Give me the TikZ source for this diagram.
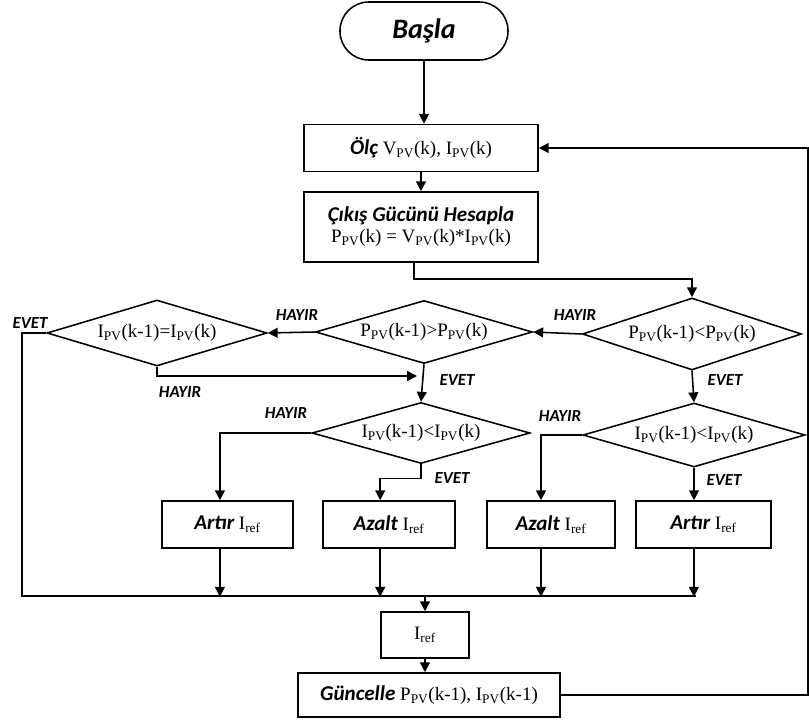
\documentclass[tikz,border=0pt]{standalone}
\usepackage{fontspec}
\setmainfont{Liberation Serif}
\newfontfamily\lblfont{Carlito}
\usetikzlibrary{shapes.geometric,arrows.meta}

\newcommand{\kw}[1]{{\lblfont\bfseries\itshape\fontsize{15}{18}\selectfont #1}}
\newcommand{\Ipv}{I\textsubscript{PV}}
\newcommand{\Vpv}{V\textsubscript{PV}}
\newcommand{\Ppv}{P\textsubscript{PV}}
\newcommand{\Iref}{I\textsubscript{ref}}

\tikzset{
  >={Triangle[length=7pt,width=7pt]},
  process/.style={draw, rectangle, line width=1.1pt, inner sep=2pt, align=center,
    font=\fontsize{13.5}{17}\selectfont},
  decision/.style={draw, diamond, aspect=3.4, line width=1.1pt, inner sep=0pt,
    font=\fontsize{13.5}{16}\selectfont},
  answer/.style={font=\lblfont\bfseries\itshape\fontsize{12}{14}\selectfont},
}

\begin{document}
\begin{tikzpicture}[x=0.025cm, y=-0.025cm, line width=1.1pt]
        \useasboundingbox (0,0) rectangle (809,722);

        % Start, measure and power
        \node[draw, rectangle, rounded corners=0.72cm, line width=1.1pt, minimum width=4.2cm, minimum height=1.45cm,
              font=\lblfont\bfseries\itshape\fontsize{20}{22}\selectfont] (start) at (424,31) {Başla};
        \node[process, minimum width=5.85cm, minimum height=1.175cm] (measure) at (421,148) {\kw{Ölç} \Vpv(k), \Ipv(k)};
        \node[process, minimum width=5.85cm, minimum height=1.75cm] (calc) at (421,227)
              {\kw{Çıkış Gücünü Hesapla}\\[-2pt] \Ppv(k) = \Vpv(k)*\Ipv(k)};

        % Decisions
        \node[decision, minimum width=5.475cm, minimum height=1.8cm] (d1) at (692,334) {\Ppv(k-1)<\Ppv(k)};
        \node[decision, minimum width=5.425cm, minimum height=1.575cm] (d2) at (424,332) {\Ppv(k-1)>\Ppv(k)};
        \node[decision, minimum width=5.5cm, minimum height=1.65cm] (d3) at (157,333) {\Ipv(k-1)=\Ipv(k)};
        \node[decision, minimum width=5.45cm, minimum height=1.525cm] (d4) at (421,433) {\Ipv(k-1)<\Ipv(k)};
        \node[decision, minimum width=5.55cm, minimum height=1.6cm] (d5) at (694,435) {\Ipv(k-1)<\Ipv(k)};

        % Actions
        \node[process, minimum width=3.275cm, minimum height=1.175cm] (b1) at (227.5,524.5) {\kw{Artır} \Iref};
        \node[process, minimum width=3.3cm, minimum height=1.175cm] (b2) at (389,524.5) {\kw{Azalt} \Iref};
        \node[process, minimum width=3.2cm, minimum height=1.175cm] (b3) at (551,524.5) {\kw{Azalt} \Iref};
        \node[process, minimum width=3.375cm, minimum height=1.175cm] (b4) at (703.5,524.5) {\kw{Artır} \Iref};

        \node[process, minimum width=2.2cm, minimum height=1.15cm] (iref) at (425,635) {\Iref};
        \node[process, minimum width=6.55cm, minimum height=1.1cm] (update) at (429,695)
              {\kw{Güncelle} \Ppv(k-1), \Ipv(k-1)};

        % Yes / no labels
        \node[answer] (no1) at (575,315) {HAYIR};
        \node[answer] (no2) at (297,315) {HAYIR};
        \node[answer] (yes3) at (30,323) {EVET};
        \node[answer] (no3) at (180,392) {HAYIR};
        \node[answer] (yes2) at (457,380) {EVET};
        \node[answer] (yes1) at (725,380) {EVET};
        \node[answer] (no4) at (286,413) {HAYIR};
        \node[answer] (yes4) at (452,478) {EVET};
        \node[answer] (no5) at (560,416) {HAYIR};
        \node[answer] (yes5) at (724,480) {EVET};

        \coordinate (busL) at (22,596);
        \coordinate (busR) at (696,596);
        \coordinate (j1) at (417,376);
        \coordinate (fb) at (808,420);

        % Connectors
        \draw[->] (start.south) -- (start.south |- measure.north);
        \draw[->] (measure) -- (calc);
        \draw[->] ([xshift=-0.18cm]calc.south) -- ++(0,16) -| (d1.north);
        \draw[->] (d1.west) -- (d2.east);
        \draw[->] (d2.west) -- (d3.east);
        \draw[->] (d2.south) -- (d4.north);
        \draw[->] (d1.south) -- (d5.north);
        \draw[->] (d3.south) |- (j1);
        \draw (d3.west) -| (busL) -- (busR);

        \draw[->] (d4.west) -| ([xshift=-0.19cm]b1.north);
        \draw[->] (d4.south) -- ++(0,14) -| ([xshift=-0.22cm]b2.north);
        \draw[->] (d5.west) -| ([xshift=-0.25cm]b3.north);
        \draw[->] (d5.south) -- (d5.south |- b4.north);

        \draw[->] ([xshift=-0.19cm]b1.south) -- ++(0,48);
        \draw[->] ([xshift=-0.22cm]b2.south) -- ++(0,48);
        \draw[->] ([xshift=-0.25cm]b3.south) -- ++(0,48);
        \draw[->] ([xshift=-0.24cm]b4.south) -- ++(0,48);

        \draw[->] (iref.north |- busL) -- (iref);
        \draw[->] (iref.south) -- (iref.south |- update.north);
        \draw[->] (update.east) -| (fb) |- (measure.east);
    \end{tikzpicture}
\end{document}
